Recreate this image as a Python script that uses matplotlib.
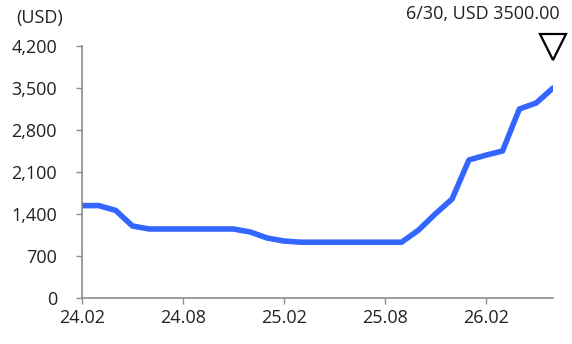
import matplotlib.pyplot as plt

plt.rcParams['font.family'] = ['Open Sans', 'DejaVu Sans']

# monthly prices, 24.02 .. 26.06
months = ['24.02', '24.03', '24.04', '24.05', '24.06', '24.07', '24.08', '24.09',
          '24.10', '24.11', '24.12', '25.01', '25.02', '25.03', '25.04', '25.05',
          '25.06', '25.07', '25.08', '25.09', '25.10', '25.11', '25.12', '26.01',
          '26.02', '26.03', '26.04', '26.05', '26.06']
prices = [1540, 1540, 1460, 1200, 1150, 1150, 1150, 1150,
          1150, 1150, 1100, 1000, 950, 930, 930, 930,
          930, 930, 930, 930, 1130, 1400, 1650, 2300,
          2380, 2450, 3150, 3250, 3500]
yticks = [0, 700, 1400, 2100, 2800, 3500, 4200]
label = '6/30, USD 3500.00'

gray = '#8c8c8c'
fs = 13
fig = plt.figure(figsize=(5.72, 3.44), dpi=100)
ax = fig.add_axes([82/572, 1-298/344, (553-82)/572, (298-46)/344])

x = list(range(len(months)))
ax.plot(x, prices, color='#3366ff', lw=4, solid_joinstyle='round', solid_capstyle='round')

ax.set_xlim(0, len(months) - 1)
ax.set_ylim(0, 4200)
ax.set_yticks(yticks)
ax.set_yticklabels([f'{v:,}' for v in yticks])
ax.set_xticks(x[::6])
ax.set_xticklabels(months[::6])

for s in ['top', 'right']:
    ax.spines[s].set_visible(False)
for s in ['left', 'bottom']:
    ax.spines[s].set_color(gray)
    ax.spines[s].set_linewidth(1.2)
ax.tick_params(colors=gray, labelcolor='#222222', labelsize=fs, length=4, width=1)
ax.tick_params(axis='y', pad=14)
ax.tick_params(axis='x', pad=4)

# last value marker and label
ax.plot(x[-1], 4180, marker='v', ms=19, mfc='white', mec='black', mew=1.6, clip_on=False)
fig.text(560/572, 1-14/344, label, ha='right', va='center', fontsize=fs, color='#222222')
fig.text(16/572, 1-18/344, '(USD)', ha='left', va='center', fontsize=fs, color='#222222')

fig.savefig('out.png')
